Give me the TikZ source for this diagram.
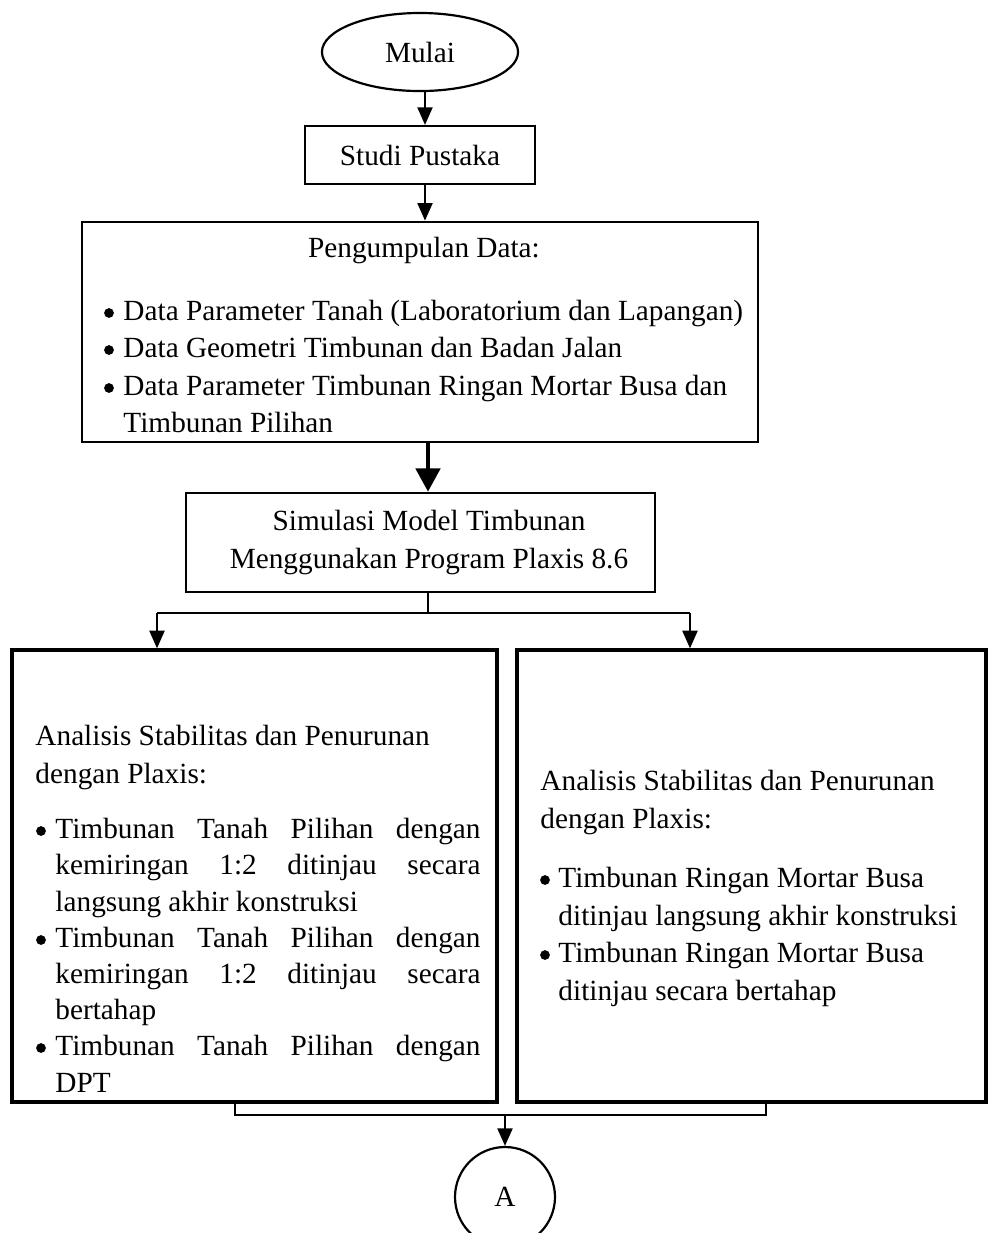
\documentclass[tikz,border=0pt]{standalone}
\usepackage{fontspec}
\setmainfont{Liberation Serif}
\usetikzlibrary{arrows.meta,shapes.geometric,fit}
\newcommand{\jline}[1]{\makebox[174.25pt][s]{#1}}
\begin{document}
\begin{tikzpicture}[x=0.41pt,y=-0.41pt,
  every node/.style={font=\fontsize{12}{14}\selectfont},
  box/.style={draw, inner sep=0pt, line width=#1},
  box/.default=0.9pt,
  txt/.style={anchor=base west, inner sep=0pt},
  ctxt/.style={anchor=base, inner sep=0pt},
  bul/.style={circle, fill, inner sep=0pt, minimum size=4pt},
  arr/.style={-{Triangle[width=6.2pt,length=7.2pt]}, line width=0.7pt},
  thickarr/.style={-{Triangle[width=10pt,length=9.5pt]}, line width=1.5pt},
  thinline/.style={line width=0.5pt}]
\useasboundingbox (0,0) rectangle (988,1233);
\clip (0,0) rectangle (988,1233);

% nodes
\node[draw, ellipse, line width=0.9pt, minimum width=80.4pt, minimum height=32pt, inner sep=0pt] (mulai) at (420,52) {Mulai};
\node[draw, line width=0.9pt, minimum width=94.3pt, minimum height=23.8pt, inner sep=0pt] (studi) at (420,155) {Studi Pustaka};
\node[box=1.15pt, fit={(82,222) (758,442)}] (data) {};
\node[box=1.15pt, fit={(186,493) (655,592)}] (sim) {};
\node[box=1.4pt, fit={(12,650) (497,1102)}] (lbox) {};
\node[box=1.4pt, fit={(517,650) (986,1102)}] (rbox) {};
\node[draw, circle, line width=0.9pt, minimum size=41pt, inner sep=0pt] (nA) at (505,1197) {A};

% data box text
\node[ctxt] (d0) at (424,257) {Pengumpulan Data:};
\node[bul] (db1) at (109,313) {};
\node[txt] (d1) at (123,320) {Data Parameter Tanah (Laboratorium dan Lapangan)};
\node[bul] (db2) at (109,350) {};
\node[txt] (d2) at (123,357) {Data Geometri Timbunan dan Badan Jalan};
\node[bul] (db3) at (109,388) {};
\node[txt] (d3) at (123,395) {Data Parameter Timbunan Ringan Mortar Busa dan};
\node[txt] (d4) at (123,432) {Timbunan Pilihan};

% simulation text
\node[ctxt] (s1) at (429,530) {Simulasi Model Timbunan};
\node[ctxt] (s2) at (429,568) {Menggunakan Program Plaxis 8.6};

% left box text
\node[txt] (l1) at (35,745) {Analisis Stabilitas dan Penurunan};
\node[txt] (l2) at (35,783) {dengan Plaxis:};
\node[bul] (lb1) at (41,831) {};
\node[txt] (l3) at (55,838) {\jline{Timbunan Tanah Pilihan dengan}};
\node[txt] (l4) at (55,874) {\jline{kemiringan 1:2 ditinjau secara}};
\node[txt] (l5) at (55,911) {langsung akhir konstruksi};
\node[bul] (lb2) at (41,940) {};
\node[txt] (l6) at (55,947) {\jline{Timbunan Tanah Pilihan dengan}};
\node[txt] (l7) at (55,983) {\jline{kemiringan 1:2 ditinjau secara}};
\node[txt] (l8) at (55,1019) {bertahap};
\node[bul] (lb3) at (41,1048) {};
\node[txt] (l9) at (55,1055) {\jline{Timbunan Tanah Pilihan dengan}};
\node[txt] (l10) at (55,1092) {DPT};

% right box text
\node[txt] (r1) at (540,790) {Analisis Stabilitas dan Penurunan};
\node[txt] (r2) at (540,828) {dengan Plaxis:};
\node[bul] (rb1) at (545,880) {};
\node[txt] (r3) at (558,887) {Timbunan Ringan Mortar Busa};
\node[txt] (r4) at (558,925) {ditinjau langsung akhir konstruksi};
\node[bul] (rb2) at (545,955) {};
\node[txt] (r5) at (558,962) {Timbunan Ringan Mortar Busa};
\node[txt] (r6) at (558,1000) {ditinjau secara bertahap};

% helper coordinates
\coordinate (cx1) at (425,0);
\coordinate (cx2) at (428,0);
\coordinate (split) at (428,613);
\coordinate (sl) at (157,613);
\coordinate (sr) at (690,613);
\coordinate (bl) at (235,1115);
\coordinate (br) at (766,1115);
\coordinate (bm) at (505,1115);

% connectors
\draw[arr] (cx1 |- mulai.south) -- (cx1 |- studi.north);
\draw[arr] (cx1 |- studi.south) -- (cx1 |- data.north);
\draw[thickarr] (cx2 |- data.south) -- (cx2 |- sim.north);
\draw[thinline] (cx2 |- sim.south) -- (split);
\draw[thinline] (sl) -- (sr);
\draw[arr] (sl) -- (sl |- lbox.north);
\draw[arr] (sr) -- (sr |- rbox.north);
\draw[line width=0.8pt] (bl |- lbox.south) -- (bl) -- (br) -- (br |- rbox.south);
\draw[arr] (bm) -- (nA.north);
\end{tikzpicture}
\end{document}
